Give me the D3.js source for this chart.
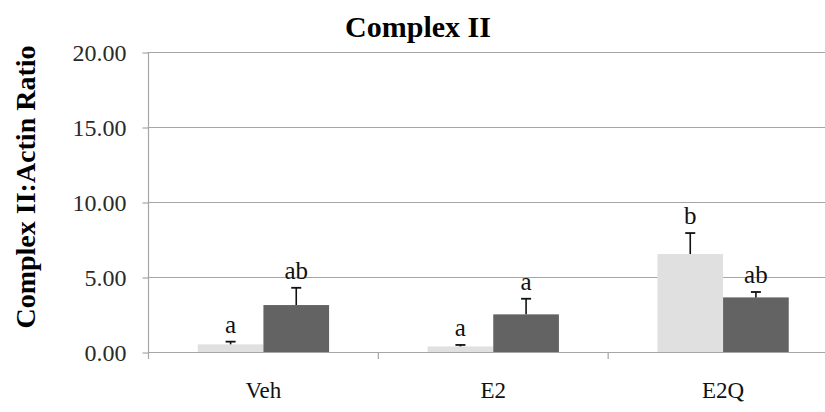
<!DOCTYPE html>
<html>
<head>
<meta charset="utf-8">
<script src="https://cdn.jsdelivr.net/npm/d3@7"></script>
<style>
  html, body { margin: 0; padding: 0; background: #fff; }
  svg { display: block; }
  text { font-family: "Liberation Serif", "Times New Roman", serif; }
</style>
</head>
<body>
<svg id="chart" width="825" height="412"></svg>
<script>
const categories = ["Veh", "E2", "E2Q"];
const seriesNames = ["light", "dark"];
const lightValues = [0.51, 0.37, 6.53];
const lightErrors = [0.18, 0.10, 1.40];
const lightLetters = ["a", "a", "b"];
const darkValues = [3.13, 2.51, 3.64];
const darkErrors = [1.15, 1.04, 0.36];
const darkLetters = ["ab", "a", "ab"];
const yTicks = [0, 5, 10, 15, 20];
const titleText = "Complex II";
const yLabelText = "Complex II:Actin Ratio";

const colors = { light: "#e0e0e0", dark: "#636363" };

const svg = d3.select("#chart");
const W = 825;
const plotLeft = 148.5, plotRight = 838, plotTop = 52, plotBottom = 352;

const y = d3.scaleLinear().domain([0, 20]).range([plotBottom, plotTop]);
const x0 = d3.scaleBand().domain(categories).range([plotLeft, plotRight])
  .paddingInner(0.4286).paddingOuter(0.2143);
const x1 = d3.scaleBand().domain(seriesNames).range([0, x0.bandwidth()]);

// gridlines
svg.append("g").selectAll("line").data(yTicks).join("line")
  .attr("x1", plotLeft).attr("x2", W)
  .attr("y1", d => Math.round(y(d)) + 0.5).attr("y2", d => Math.round(y(d)) + 0.5)
  .attr("stroke", "#a6a6a6").attr("stroke-width", 1.2);

// y axis
const yAxis = d3.axisLeft(y).tickValues(yTicks).tickSize(6).tickFormat(d3.format(".2f"));
const gy = svg.append("g").attr("transform", `translate(${plotLeft},0)`).call(yAxis)
  .attr("font-family", null);
gy.select(".domain").attr("stroke", "#a6a6a6").attr("stroke-width", 1.2).attr("d", `M0,${plotTop}V${plotBottom}`);
gy.selectAll(".tick line").attr("stroke", "#a6a6a6").attr("stroke-width", 1.2)
  .attr("transform", d => `translate(0,${Math.round(y(d)) + 0.5 - y(d)})`);
gy.selectAll(".tick text").attr("x", -22).attr("dy", "0.36em")
  .attr("font-size", 24).attr("fill", "#2a2a2a")
  .style("font-family", '"Liberation Serif", serif');

// x category boundary ticks
const bounds = categories.map(c => x0(c) - x0.step() * 0.2143).concat([plotRight]);
svg.append("g").selectAll("line").data(bounds).join("line")
  .attr("x1", d => d).attr("x2", d => d)
  .attr("y1", plotBottom).attr("y2", plotBottom + 7)
  .attr("stroke", "#a6a6a6").attr("stroke-width", 1.2);

// bars
const rows = [];
categories.forEach((c, i) => {
  rows.push({ cat: c, s: "light", v: lightValues[i], e: lightErrors[i], l: lightLetters[i] });
  rows.push({ cat: c, s: "dark", v: darkValues[i], e: darkErrors[i], l: darkLetters[i] });
});

const g = svg.append("g");
g.selectAll("rect").data(rows).join("rect")
  .attr("x", d => x0(d.cat) + x1(d.s))
  .attr("width", x1.bandwidth())
  .attr("y", d => y(d.v))
  .attr("height", d => y(0) - y(d.v))
  .attr("fill", d => colors[d.s]);

// error bars (upper only)
const cx = d => x0(d.cat) + x1(d.s) + x1.bandwidth() / 2;
g.selectAll("line.err").data(rows).join("line").attr("class", "err")
  .attr("x1", cx).attr("x2", cx)
  .attr("y1", d => y(d.v)).attr("y2", d => y(d.v + d.e))
  .attr("stroke", "#111").attr("stroke-width", 1.6);
g.selectAll("line.cap").data(rows).join("line").attr("class", "cap")
  .attr("x1", d => cx(d) - 5).attr("x2", d => cx(d) + 5)
  .attr("y1", d => y(d.v + d.e)).attr("y2", d => y(d.v + d.e))
  .attr("stroke", "#111").attr("stroke-width", 1.8);

// significance letters
g.selectAll("text.sig").data(rows).join("text").attr("class", "sig")
  .attr("x", cx).attr("y", d => y(d.v + d.e) - 9)
  .attr("text-anchor", "middle").attr("font-size", 25).attr("fill", "#111")
  .text(d => d.l);

// x labels
svg.append("g").selectAll("text").data(categories).join("text")
  .attr("x", d => x0(d) + x0.bandwidth() / 2).attr("y", 398)
  .attr("text-anchor", "middle").attr("font-size", 23).attr("fill", "#111")
  .text(d => d);

// title
svg.append("text").attr("x", 418).attr("y", 37)
  .attr("text-anchor", "middle").attr("font-size", 30).attr("font-weight", "bold")
  .attr("fill", "#000").text(titleText);

// y label
svg.append("text").attr("transform", "translate(35,187) rotate(-90)")
  .attr("text-anchor", "middle").attr("font-size", 28).attr("font-weight", "bold")
  .attr("fill", "#000").text(yLabelText);
</script>
</body>
</html>
